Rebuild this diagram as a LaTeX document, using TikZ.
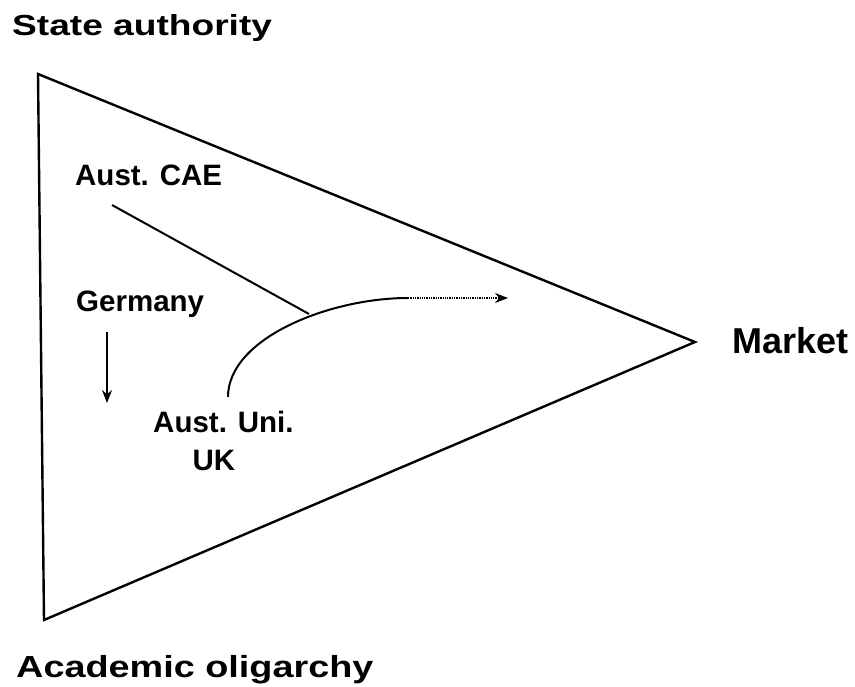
\documentclass[tikz,border=0pt]{standalone}
\usepackage{fontspec}
\setmainfont{Liberation Sans}
\newfontfamily\widea[FakeStretch=1.28]{Liberation Sans}
\newfontfamily\wideb[FakeStretch=1.24]{Liberation Sans}
\usetikzlibrary{arrows.meta}
\tikzset{
  lbl/.style={anchor=base west, inner sep=0pt, font=\bfseries\fontsize{29.5}{30}\selectfont},
  edge/.style={line width=2.4pt, line join=miter},
  conn/.style={line width=2pt},
  tip/.style={-{Stealth[length=13pt,width=10pt]}}
}
\begin{document}
\begin{tikzpicture}[x=1pt,y=-1pt]
\useasboundingbox (0,0) rectangle (855,687);
% triangle
\coordinate (tl) at (38,74);
\coordinate (bl) at (44,620);
\coordinate (rv) at (695,342);
\draw[edge] (tl) -- (rv) -- (bl) -- cycle;
% outer labels
\node[anchor=base west, inner sep=0pt, font=\widea\bfseries\fontsize{29}{30}\selectfont] (state) at (12,36) {State authority};
\node[anchor=base west, inner sep=0pt, font=\wideb\bfseries\fontsize{30.5}{31}\selectfont] (acad) at (16,677) {Academic oligarchy};
\node[anchor=base west, inner sep=0pt, font=\bfseries\fontsize{36}{37}\selectfont] (market) at (732,354) {Market};
% inner labels
\node[lbl] (cae) at (75,186) {Aust. CAE};
\node[lbl] (ger) at (76,312) {Germany};
\node[lbl] (uni) at (153,432) {Aust. Uni.};
\node[lbl, anchor=base] (uk) at (214,470) {UK};
% connectors
\coordinate (caeS) at (112,205);
\coordinate (jn) at (309,314);
\coordinate (cS) at (228,397);
\coordinate (cE) at (408,298);
\coordinate (dE) at (508,298);
\coordinate (gS) at (107,332);
\coordinate (gE) at (107,403);
\draw[conn] (caeS) -- (jn);
\draw[conn] (cS) .. controls (228,338) and (330,298) .. (cE);
\draw[line width=1.3pt, densely dotted, tip] (cE) -- (dE);
\draw[line width=1.6pt, tip] (gS) -- (gE);
\end{tikzpicture}
\end{document}
